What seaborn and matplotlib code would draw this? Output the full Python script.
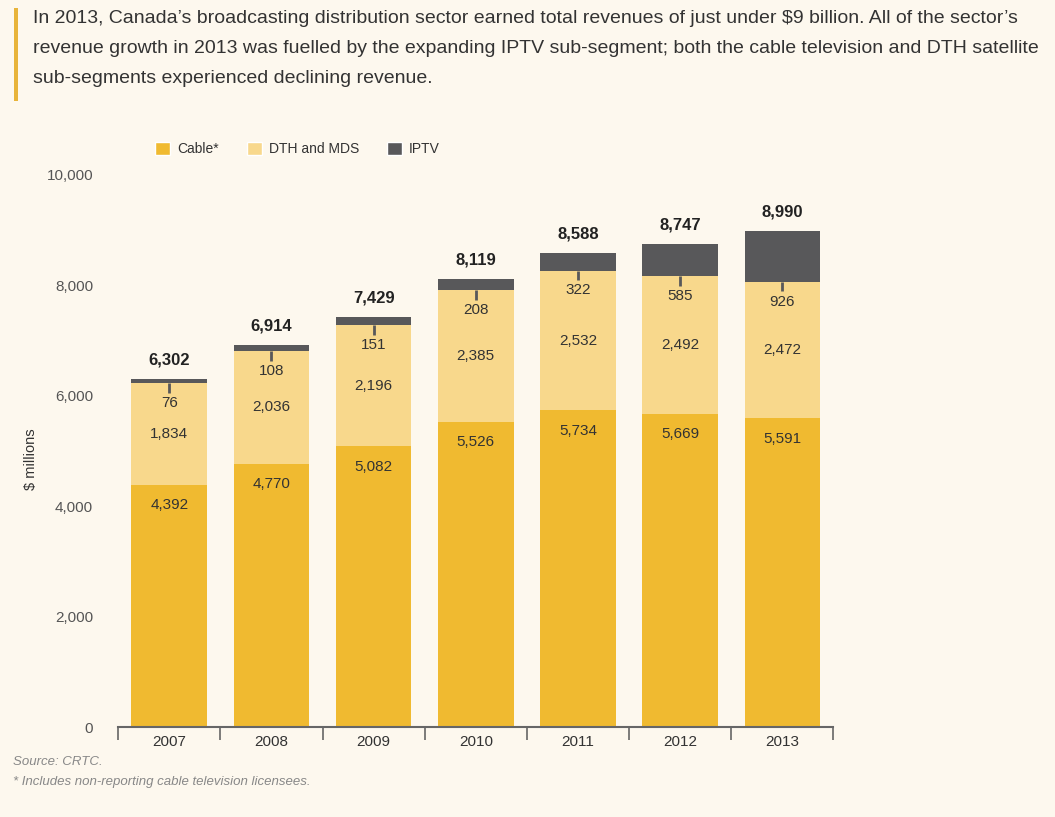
import matplotlib
matplotlib.use("Agg")
import matplotlib.pyplot as plt
from matplotlib.patches import Patch, Rectangle
import seaborn as sns
import pandas as pd
import numpy as np

# Broadcasting distribution revenues ($ millions)
years = ["2007", "2008", "2009", "2010", "2011", "2012", "2013"]
cable = [4392, 4770, 5082, 5526, 5734, 5669, 5591]
dth_mds = [1834, 2036, 2196, 2385, 2532, 2492, 2472]
iptv = [76, 108, 151, 208, 322, 585, 926]
totals = [6302, 6914, 7429, 8119, 8588, 8747, 8990]
y_ticks = [0, 2000, 4000, 6000, 8000, 10000]

C_CABLE = "#F0BA30"
C_DTH = "#F8D88C"
C_IPTV = "#58585A"
BG = "#FDF8EE"
TXT = "#333333"

sns.set_theme(style="white")
plt.rcParams["font.family"] = ["Liberation Sans Narrow", "Liberation Sans", "DejaVu Sans"]

df = pd.DataFrame({"year": years, "cable": cable, "dth": dth_mds, "iptv": iptv})
df["cable_dth"] = df["cable"] + df["dth"]
df["total"] = df["cable_dth"] + df["iptv"]

fig = plt.figure(figsize=(10.55, 8.17), dpi=100, facecolor=BG)
ax = fig.add_axes([0.112, 0.110, 0.678, 0.676])
ax.set_facecolor(BG)

# Layered bars: full stack first, then the lower segments on top of it
for col, colr in [("total", C_IPTV), ("cable_dth", C_DTH), ("cable", C_CABLE)]:
    sns.barplot(data=df, x="year", y=col, order=years, color=colr, width=0.74,
                saturation=1, linewidth=0, ax=ax)

ax.set_xlim(-0.5, len(years) - 0.5)
ax.set_ylim(0, 10000)
ax.set_yticks(y_ticks)
ax.set_yticklabels([f"{v:,}" for v in y_ticks], color="#555555", fontsize=11)
ax.tick_params(axis="y", length=0, pad=18)
ax.set_xticks(range(len(years)))
ax.set_xticklabels(years, color=TXT, fontsize=11)
ax.set_xticks(np.arange(-0.5, len(years), 1.0), minor=True)
ax.tick_params(axis="x", which="major", bottom=False, length=0, pad=6)
ax.tick_params(axis="x", which="minor", bottom=True, length=9, width=1.2,
               color="#666666", direction="out")
ax.set_xlabel("")
ax.set_ylabel("$ millions", fontsize=10.5, color=TXT)
ax.yaxis.set_label_coords(-0.112, 0.485)
for s in ["top", "right", "left"]:
    ax.spines[s].set_visible(False)
ax.spines["bottom"].set_color("#666666")
ax.spines["bottom"].set_linewidth(1.5)

# Segment value labels
for i, row in df.iterrows():
    ax.text(i, row["cable"] - 370, f"{row['cable']:,}", ha="center", va="center",
            fontsize=11, color=TXT)
    ax.text(i, row["cable"] + row["dth"] / 2, f"{row['dth']:,}", ha="center",
            va="center", fontsize=11, color=TXT)
    ax.vlines(i, row["cable_dth"] - 170, row["cable_dth"], color=C_IPTV, lw=2)
    ax.text(i, row["cable_dth"] - 360, f"{row['iptv']:,}", ha="center",
            va="center", fontsize=11, color=TXT)
    ax.text(i, row["total"] + 340, f"{totals[i]:,}", ha="center", va="center",
            fontsize=12, fontweight="bold", color="#222222")

# Legend
handles = [Patch(facecolor=C_CABLE, label="Cable*"),
           Patch(facecolor=C_DTH, label="DTH and MDS"),
           Patch(facecolor=C_IPTV, label="IPTV")]
leg = fig.legend(handles=handles, loc="upper left", bbox_to_anchor=(0.135, 0.842),
                 ncol=3, frameon=False, fontsize=10, handlelength=1.1,
                 handleheight=1.1, handletextpad=0.5, columnspacing=2.0)
for t in leg.get_texts():
    t.set_color(TXT)

# Header text with accent bar
fig.patches.append(Rectangle((0.013, 0.876), 0.004, 0.114, transform=fig.transFigure,
                             facecolor="#E8B43A", edgecolor="none"))
header = ("In 2013, Canada\u2019s broadcasting distribution sector earned total revenues of just under $9 billion. All of the sector\u2019s\n"
          "revenue growth in 2013 was fuelled by the expanding IPTV sub-segment; both the cable television and DTH satellite\n"
          "sub-segments experienced declining revenue.")
fig.text(0.031, 0.988, header, ha="left", va="top", fontsize=14, color=TXT,
         linespacing=2.0)

# Footnotes
fig.text(0.012, 0.067, "Source: CRTC.", ha="left", va="center", fontsize=9.5,
         style="italic", color="#888888")
fig.text(0.012, 0.043, "* Includes non-reporting cable television licensees.", ha="left",
         va="center", fontsize=9.5, style="italic", color="#888888")

fig.savefig("out.png", dpi=100, facecolor=BG)
